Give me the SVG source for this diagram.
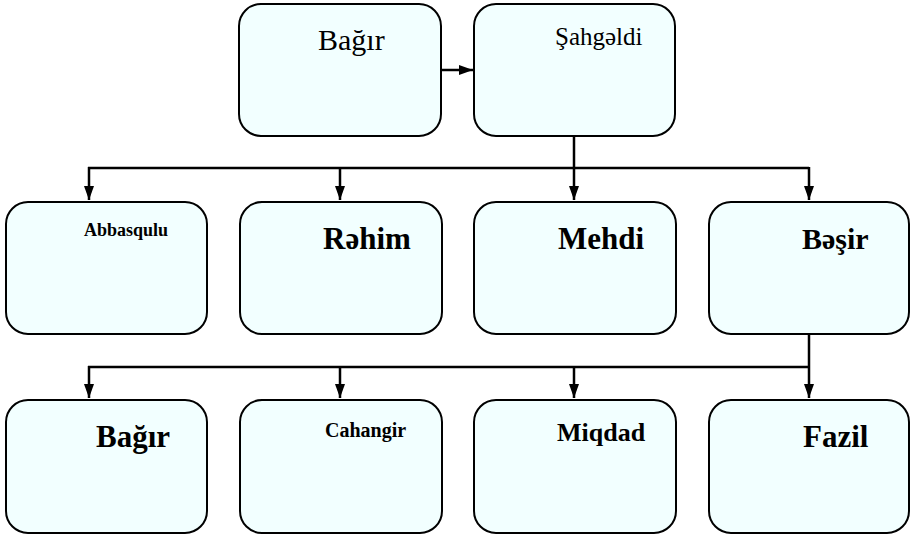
<svg xmlns="http://www.w3.org/2000/svg" width="911" height="535" viewBox="0 0 911 535">
<style>
.box{fill:#F2FFFF;stroke:#000;stroke-width:2}
.ln{stroke:#000;stroke-width:2.5;fill:none}
</style>
<defs>
<marker id="ah" viewBox="0 0 14 10" refX="14" refY="5" markerWidth="14" markerHeight="10" markerUnits="userSpaceOnUse" orient="auto">
<path d="M0,0 L14,5 L0,10 Z" fill="#000"/>
</marker>
</defs>
<rect width="911" height="535" fill="#fff"/>
<g id="connectors">
<line class="ln" x1="441" y1="70" x2="473" y2="70" marker-end="url(#ah)"/>
<line class="ln" x1="574" y1="136" x2="574" y2="168"/>
<line class="ln" x1="88" y1="168" x2="809" y2="168"/>
<line class="ln" x1="89" y1="167" x2="89" y2="200" marker-end="url(#ah)"/>
<line class="ln" x1="340" y1="168" x2="340" y2="200" marker-end="url(#ah)"/>
<line class="ln" x1="574" y1="168" x2="574" y2="200" marker-end="url(#ah)"/>
<line class="ln" x1="809" y1="167" x2="809" y2="200" marker-end="url(#ah)"/>
<line class="ln" x1="809" y1="334" x2="809" y2="367"/>
<line class="ln" x1="88" y1="367" x2="809" y2="367"/>
<line class="ln" x1="89" y1="366" x2="89" y2="398" marker-end="url(#ah)"/>
<line class="ln" x1="340" y1="367" x2="340" y2="398" marker-end="url(#ah)"/>
<line class="ln" x1="574" y1="367" x2="574" y2="398" marker-end="url(#ah)"/>
<line class="ln" x1="809" y1="367" x2="809" y2="398" marker-end="url(#ah)"/>
</g>
<g font-family="'Liberation Serif', 'Times New Roman', serif" fill="#000">
<g id="n-bagir-top"><rect class="box" x="239" y="4" width="202" height="132" rx="22"/><text x="318" y="50" font-size="30">Bağır</text></g>
<g id="n-sahgeldi"><rect class="box" x="474" y="4" width="201" height="132" rx="22"/><text x="555" y="45" font-size="25">Şahgəldi</text></g>
<g id="n-abbasqulu"><rect class="box" x="6" y="202" width="201" height="132" rx="22"/><text x="84" y="236" font-size="18" font-weight="bold">Abbasqulu</text></g>
<g id="n-rehim"><rect class="box" x="240" y="202" width="202" height="132" rx="22"/><text x="323" y="249" font-size="31" font-weight="bold">Rəhim</text></g>
<g id="n-mehdi"><rect class="box" x="474" y="202" width="202" height="132" rx="22"/><text x="558" y="249" font-size="31" font-weight="bold">Mehdi</text></g>
<g id="n-besir"><rect class="box" x="709" y="202" width="200" height="132" rx="22"/><text x="802" y="249" font-size="30" font-weight="bold">Bəşir</text></g>
<g id="n-bagir"><rect class="box" x="6" y="400" width="201" height="133" rx="22"/><text x="96" y="447" font-size="31" font-weight="bold">Bağır</text></g>
<g id="n-cahangir"><rect class="box" x="240" y="400" width="202" height="133" rx="22"/><text x="325" y="437" font-size="20" font-weight="bold">Cahangir</text></g>
<g id="n-miqdad"><rect class="box" x="474" y="400" width="202" height="133" rx="22"/><text x="557" y="441" font-size="26" font-weight="bold">Miqdad</text></g>
<g id="n-fazil"><rect class="box" x="709" y="400" width="200" height="133" rx="22"/><text x="803" y="447" font-size="31" font-weight="bold">Fazil</text></g>
</g>
</svg>
